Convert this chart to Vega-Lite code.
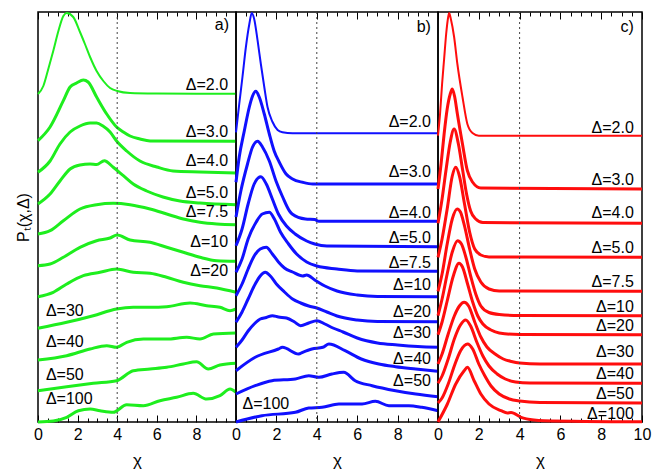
{
"$schema": "https://vega.github.io/schema/vega-lite/v6.json",
"padding": {"left": 14, "top": 8, "right": 5, "bottom": 0},
"spacing": 0,
"bounds": "flush",
"config": {"view": {"stroke": "black", "strokeWidth": 1.5}, "font": "Liberation Sans",
 "axis": {"grid": false, "domain": false, "labelFont": "Liberation Sans", "titleFont": "Liberation Sans", "labelColor": "black", "titleColor": "black", "tickColor": "black", "titleFontWeight": "normal"}},
"datasets": {
"ref": [{"x": 4}],
"labels": [
{"p":"a","t":"a)","x":9.65,"y":39.7},
{"p":"a","t":"Δ=2.0","x":9.6,"y":33.73},{"p":"a","t":"Δ=3.0","x":9.6,"y":29.04},{"p":"a","t":"Δ=4.0","x":9.6,"y":26.13},{"p":"a","t":"Δ=5.0","x":9.6,"y":22.9},{"p":"a","t":"Δ=7.5","x":9.6,"y":21.0},{"p":"a","t":"Δ=10","x":9.6,"y":18.0},{"p":"a","t":"Δ=20","x":9.6,"y":15.1},{"p":"a","t":"Δ=30","x":0.4,"y":11.1},{"p":"a","t":"Δ=40","x":0.4,"y":8.0},{"p":"a","t":"Δ=50","x":0.4,"y":4.7},{"p":"a","t":"Δ=100","x":0.4,"y":2.3},
{"p":"b","t":"b)","x":9.65,"y":39.5},
{"p":"b","t":"Δ=2.0","x":9.65,"y":29.97},{"p":"b","t":"Δ=3.0","x":9.65,"y":24.97},{"p":"b","t":"Δ=4.0","x":9.65,"y":20.9},{"p":"b","t":"Δ=5.0","x":9.65,"y":18.4},{"p":"b","t":"Δ=7.5","x":9.65,"y":15.9},{"p":"b","t":"Δ=10","x":9.65,"y":13.73},{"p":"b","t":"Δ=20","x":9.65,"y":11.03},{"p":"b","t":"Δ=30","x":9.65,"y":8.87},{"p":"b","t":"Δ=40","x":9.65,"y":6.3},{"p":"b","t":"Δ=50","x":9.65,"y":4.13},{"p":"b","t":"Δ=100","x":0.32,"y":1.8},
{"p":"c","t":"c)","x":9.6,"y":39.5},
{"p":"c","t":"Δ=2.0","x":9.6,"y":29.4},{"p":"c","t":"Δ=3.0","x":9.6,"y":24.23},{"p":"c","t":"Δ=4.0","x":9.6,"y":20.87},{"p":"c","t":"Δ=5.0","x":9.6,"y":17.4},{"p":"c","t":"Δ=7.5","x":9.6,"y":13.97},{"p":"c","t":"Δ=10","x":9.6,"y":11.53},{"p":"c","t":"Δ=20","x":9.6,"y":9.63},{"p":"c","t":"Δ=30","x":9.6,"y":6.97},{"p":"c","t":"Δ=40","x":9.6,"y":4.8},{"p":"c","t":"Δ=50","x":9.6,"y":2.8},{"p":"c","t":"Δ=100","x":9.6,"y":0.8}
],
"curves": [
{"p":"a","d":"2.0","x":0,"y":32.8},{"p":"a","d":"2.0","x":0.27,"y":33.6},{"p":"a","d":"2.0","x":0.52,"y":35.3},{"p":"a","d":"2.0","x":0.77,"y":37.1},{"p":"a","d":"2.0","x":1.03,"y":39.1},{"p":"a","d":"2.0","x":1.28,"y":40.6},{"p":"a","d":"2.0","x":1.45,"y":40.9},{"p":"a","d":"2.0","x":1.78,"y":40.5},{"p":"a","d":"2.0","x":2.12,"y":39.0},{"p":"a","d":"2.0","x":2.37,"y":37.8},{"p":"a","d":"2.0","x":2.63,"y":36.5},{"p":"a","d":"2.0","x":2.96,"y":35.1},{"p":"a","d":"2.0","x":3.3,"y":34.1},{"p":"a","d":"2.0","x":3.64,"y":33.4},{"p":"a","d":"2.0","x":4.0,"y":33.1},{"p":"a","d":"2.0","x":4.65,"y":32.9},{"p":"a","d":"2.0","x":6,"y":32.85},{"p":"a","d":"2.0","x":8,"y":32.83},{"p":"a","d":"2.0","x":10,"y":32.83},
{"p":"a","d":"3.0","x":0,"y":28.13},{"p":"a","d":"3.0","x":0.61,"y":29.5},{"p":"a","d":"3.0","x":1.28,"y":32.13},{"p":"a","d":"3.0","x":1.62,"y":33.5},{"p":"a","d":"3.0","x":1.95,"y":33.9},{"p":"a","d":"3.0","x":2.29,"y":34.2},{"p":"a","d":"3.0","x":2.53,"y":34.0},{"p":"a","d":"3.0","x":2.96,"y":32.5},{"p":"a","d":"3.0","x":3.47,"y":30.8},{"p":"a","d":"3.0","x":3.97,"y":29.5},{"p":"a","d":"3.0","x":4.31,"y":29.0},{"p":"a","d":"3.0","x":4.65,"y":28.6},{"p":"a","d":"3.0","x":5.15,"y":28.3},{"p":"a","d":"3.0","x":5.66,"y":28.1},{"p":"a","d":"3.0","x":10,"y":28.07},
{"p":"a","d":"4.0","x":0,"y":24.97},{"p":"a","d":"4.0","x":0.61,"y":26.1},{"p":"a","d":"4.0","x":1.11,"y":27.8},{"p":"a","d":"4.0","x":1.62,"y":29.0},{"p":"a","d":"4.0","x":2.12,"y":29.6},{"p":"a","d":"4.0","x":2.63,"y":29.9},{"p":"a","d":"4.0","x":2.96,"y":29.9},{"p":"a","d":"4.0","x":3.28,"y":29.6},{"p":"a","d":"4.0","x":3.64,"y":29.0},{"p":"a","d":"4.0","x":3.97,"y":28.1},{"p":"a","d":"4.0","x":4.48,"y":27.1},{"p":"a","d":"4.0","x":5.15,"y":26.1},{"p":"a","d":"4.0","x":6.0,"y":25.5},{"p":"a","d":"4.0","x":6.82,"y":25.1},{"p":"a","d":"4.0","x":8.18,"y":25.0},{"p":"a","d":"4.0","x":10,"y":24.9},
{"p":"a","d":"5.0","x":0,"y":21.8},{"p":"a","d":"5.0","x":0.61,"y":22.8},{"p":"a","d":"5.0","x":1.11,"y":24.1},{"p":"a","d":"5.0","x":1.62,"y":25.3},{"p":"a","d":"5.0","x":2.12,"y":25.7},{"p":"a","d":"5.0","x":2.63,"y":25.8},{"p":"a","d":"5.0","x":2.96,"y":25.75},{"p":"a","d":"5.0","x":3.35,"y":26.13},{"p":"a","d":"5.0","x":3.8,"y":25.47},{"p":"a","d":"5.0","x":4.31,"y":24.63},{"p":"a","d":"5.0","x":4.81,"y":23.8},{"p":"a","d":"5.0","x":5.49,"y":23.1},{"p":"a","d":"5.0","x":6.31,"y":22.5},{"p":"a","d":"5.0","x":7.17,"y":22.1},{"p":"a","d":"5.0","x":8.18,"y":21.9},{"p":"a","d":"5.0","x":10,"y":21.73},
{"p":"a","d":"7.5","x":0,"y":18.8},{"p":"a","d":"7.5","x":0.61,"y":19.13},{"p":"a","d":"7.5","x":1.28,"y":20.13},{"p":"a","d":"7.5","x":2.12,"y":21.3},{"p":"a","d":"7.5","x":2.96,"y":21.73},{"p":"a","d":"7.5","x":3.8,"y":21.87},{"p":"a","d":"7.5","x":4.65,"y":21.73},{"p":"a","d":"7.5","x":5.66,"y":21.3},{"p":"a","d":"7.5","x":6.5,"y":20.8},{"p":"a","d":"7.5","x":7.34,"y":20.3},{"p":"a","d":"7.5","x":8.18,"y":19.97},{"p":"a","d":"7.5","x":9.03,"y":19.8},{"p":"a","d":"7.5","x":10,"y":19.73},
{"p":"a","d":"10","x":0,"y":15.63},{"p":"a","d":"10","x":0.61,"y":15.8},{"p":"a","d":"10","x":1.28,"y":16.47},{"p":"a","d":"10","x":2.12,"y":17.47},{"p":"a","d":"10","x":2.96,"y":18.13},{"p":"a","d":"10","x":3.64,"y":18.4},{"p":"a","d":"10","x":4.0,"y":18.7},{"p":"a","d":"10","x":4.65,"y":18.2},{"p":"a","d":"10","x":5.66,"y":17.97},{"p":"a","d":"10","x":6.5,"y":17.47},{"p":"a","d":"10","x":7.34,"y":16.97},{"p":"a","d":"10","x":8.18,"y":16.47},{"p":"a","d":"10","x":9.03,"y":16.13},{"p":"a","d":"10","x":10,"y":16.07},
{"p":"a","d":"20","x":0,"y":12.53},{"p":"a","d":"20","x":0.77,"y":12.97},{"p":"a","d":"20","x":1.45,"y":13.8},{"p":"a","d":"20","x":2.29,"y":14.63},{"p":"a","d":"20","x":3.13,"y":14.97},{"p":"a","d":"20","x":3.97,"y":15.3},{"p":"a","d":"20","x":4.81,"y":14.97},{"p":"a","d":"20","x":5.66,"y":14.87},{"p":"a","d":"20","x":6.5,"y":14.47},{"p":"a","d":"20","x":7.34,"y":13.97},{"p":"a","d":"20","x":8.18,"y":13.63},{"p":"a","d":"20","x":9.03,"y":13.4},{"p":"a","d":"20","x":10,"y":12.97},
{"p":"a","d":"30","x":0,"y":9.37},{"p":"a","d":"30","x":1.45,"y":9.97},{"p":"a","d":"30","x":2.79,"y":10.63},{"p":"a","d":"30","x":3.97,"y":11.3},{"p":"a","d":"30","x":4.81,"y":11.47},{"p":"a","d":"30","x":5.66,"y":11.47},{"p":"a","d":"30","x":6.5,"y":11.53},{"p":"a","d":"30","x":7.68,"y":11.9},{"p":"a","d":"30","x":8.52,"y":11.63},{"p":"a","d":"30","x":9.19,"y":11.47},{"p":"a","d":"30","x":9.7,"y":11.13},{"p":"a","d":"30","x":10,"y":11.3},
{"p":"a","d":"40","x":0,"y":6.2},{"p":"a","d":"40","x":1.45,"y":6.63},{"p":"a","d":"40","x":2.63,"y":7.3},{"p":"a","d":"40","x":3.47,"y":7.63},{"p":"a","d":"40","x":3.97,"y":7.47},{"p":"a","d":"40","x":4.48,"y":7.97},{"p":"a","d":"40","x":5.32,"y":8.3},{"p":"a","d":"40","x":6.5,"y":8.3},{"p":"a","d":"40","x":7.51,"y":8.47},{"p":"a","d":"40","x":8.18,"y":8.3},{"p":"a","d":"40","x":8.86,"y":8.8},{"p":"a","d":"40","x":10,"y":8.9},
{"p":"a","d":"50","x":0,"y":3.13},{"p":"a","d":"50","x":1.45,"y":3.53},{"p":"a","d":"50","x":2.79,"y":3.87},{"p":"a","d":"50","x":3.97,"y":4.13},{"p":"a","d":"50","x":4.81,"y":5.13},{"p":"a","d":"50","x":5.66,"y":5.3},{"p":"a","d":"50","x":6.5,"y":5.47},{"p":"a","d":"50","x":7.34,"y":5.8},{"p":"a","d":"50","x":8.01,"y":6.03},{"p":"a","d":"50","x":8.6,"y":5.3},{"p":"a","d":"50","x":9.19,"y":5.7},{"p":"a","d":"50","x":10,"y":5.87},
{"p":"a","d":"100","x":0,"y":0},{"p":"a","d":"100","x":0.77,"y":0.1},{"p":"a","d":"100","x":1.45,"y":0.47},{"p":"a","d":"100","x":2.04,"y":1.13},{"p":"a","d":"100","x":2.63,"y":1.3},{"p":"a","d":"100","x":3.13,"y":1.13},{"p":"a","d":"100","x":3.8,"y":0.97},{"p":"a","d":"100","x":4.48,"y":1.73},{"p":"a","d":"100","x":5.32,"y":1.63},{"p":"a","d":"100","x":6.16,"y":2.13},{"p":"a","d":"100","x":7.0,"y":2.47},{"p":"a","d":"100","x":7.84,"y":2.87},{"p":"a","d":"100","x":8.52,"y":2.3},{"p":"a","d":"100","x":9.19,"y":2.63},{"p":"a","d":"100","x":9.7,"y":3.3},{"p":"a","d":"100","x":10,"y":2.97},
{"p":"b","d":"2.0","x":0,"y":28.97},{"p":"b","d":"2.0","x":0.16,"y":31.8},{"p":"b","d":"2.0","x":0.32,"y":34.5},{"p":"b","d":"2.0","x":0.49,"y":37.5},{"p":"b","d":"2.0","x":0.66,"y":39.8},{"p":"b","d":"2.0","x":0.78,"y":40.9},{"p":"b","d":"2.0","x":0.9,"y":40.3},{"p":"b","d":"2.0","x":1.07,"y":38.13},{"p":"b","d":"2.0","x":1.23,"y":35.8},{"p":"b","d":"2.0","x":1.4,"y":33.5},{"p":"b","d":"2.0","x":1.56,"y":31.5},{"p":"b","d":"2.0","x":1.81,"y":30.0},{"p":"b","d":"2.0","x":2.06,"y":29.2},{"p":"b","d":"2.0","x":2.3,"y":28.97},{"p":"b","d":"2.0","x":2.8,"y":28.87},{"p":"b","d":"2.0","x":10,"y":28.87},
{"p":"b","d":"3.0","x":0,"y":23.97},{"p":"b","d":"3.0","x":0.16,"y":26.5},{"p":"b","d":"3.0","x":0.41,"y":29.1},{"p":"b","d":"3.0","x":0.66,"y":31.5},{"p":"b","d":"3.0","x":0.82,"y":32.6},{"p":"b","d":"3.0","x":0.98,"y":33.07},{"p":"b","d":"3.0","x":1.15,"y":32.5},{"p":"b","d":"3.0","x":1.4,"y":30.8},{"p":"b","d":"3.0","x":1.65,"y":28.8},{"p":"b","d":"3.0","x":1.89,"y":27.1},{"p":"b","d":"3.0","x":2.14,"y":26.0},{"p":"b","d":"3.0","x":2.48,"y":24.8},{"p":"b","d":"3.0","x":2.8,"y":24.3},{"p":"b","d":"3.0","x":3.3,"y":23.97},{"p":"b","d":"3.0","x":3.8,"y":23.8},{"p":"b","d":"3.0","x":10,"y":23.8},
{"p":"b","d":"4.0","x":0,"y":20.5},{"p":"b","d":"4.0","x":0.24,"y":23.1},{"p":"b","d":"4.0","x":0.57,"y":25.8},{"p":"b","d":"4.0","x":0.82,"y":27.5},{"p":"b","d":"4.0","x":1.07,"y":28.07},{"p":"b","d":"4.0","x":1.31,"y":27.5},{"p":"b","d":"4.0","x":1.65,"y":26.1},{"p":"b","d":"4.0","x":1.98,"y":24.1},{"p":"b","d":"4.0","x":2.31,"y":22.5},{"p":"b","d":"4.0","x":2.65,"y":21.1},{"p":"b","d":"4.0","x":2.78,"y":20.8},{"p":"b","d":"4.0","x":3.44,"y":20.3},{"p":"b","d":"4.0","x":3.9,"y":20.25},{"p":"b","d":"4.0","x":4.1,"y":20.07},{"p":"b","d":"4.0","x":10,"y":20.07},
{"p":"b","d":"5.0","x":0,"y":17.63},{"p":"b","d":"5.0","x":0.3,"y":19.3},{"p":"b","d":"5.0","x":0.6,"y":21.8},{"p":"b","d":"5.0","x":0.9,"y":23.8},{"p":"b","d":"5.0","x":1.23,"y":24.53},{"p":"b","d":"5.0","x":1.5,"y":23.8},{"p":"b","d":"5.0","x":1.8,"y":22.3},{"p":"b","d":"5.0","x":2.1,"y":20.8},{"p":"b","d":"5.0","x":2.5,"y":19.6},{"p":"b","d":"5.0","x":2.93,"y":18.8},{"p":"b","d":"5.0","x":3.5,"y":18.1},{"p":"b","d":"5.0","x":3.9,"y":17.8},{"p":"b","d":"5.0","x":4.5,"y":17.6},{"p":"b","d":"5.0","x":10,"y":17.53},
{"p":"b","d":"7.5","x":0,"y":14.97},{"p":"b","d":"7.5","x":0.3,"y":16.3},{"p":"b","d":"7.5","x":0.6,"y":18.3},{"p":"b","d":"7.5","x":1.0,"y":20.0},{"p":"b","d":"7.5","x":1.3,"y":20.8},{"p":"b","d":"7.5","x":1.65,"y":20.97},{"p":"b","d":"7.5","x":1.9,"y":20.3},{"p":"b","d":"7.5","x":2.2,"y":19.0},{"p":"b","d":"7.5","x":2.6,"y":17.8},{"p":"b","d":"7.5","x":3.0,"y":16.8},{"p":"b","d":"7.5","x":3.5,"y":16.0},{"p":"b","d":"7.5","x":4.0,"y":15.6},{"p":"b","d":"7.5","x":5,"y":15.3},{"p":"b","d":"7.5","x":6,"y":15.1},{"p":"b","d":"7.5","x":10,"y":15.07},
{"p":"b","d":"10","x":0,"y":12.63},{"p":"b","d":"10","x":0.3,"y":13.8},{"p":"b","d":"10","x":0.6,"y":15.3},{"p":"b","d":"10","x":0.9,"y":16.6},{"p":"b","d":"10","x":1.2,"y":17.3},{"p":"b","d":"10","x":1.5,"y":17.47},{"p":"b","d":"10","x":1.8,"y":16.8},{"p":"b","d":"10","x":2.1,"y":16.0},{"p":"b","d":"10","x":2.4,"y":15.4},{"p":"b","d":"10","x":2.8,"y":15.0},{"p":"b","d":"10","x":3.3,"y":14.6},{"p":"b","d":"10","x":3.5,"y":14.7},{"p":"b","d":"10","x":3.9,"y":14.2},{"p":"b","d":"10","x":4.4,"y":13.6},{"p":"b","d":"10","x":5,"y":13.1},{"p":"b","d":"10","x":6,"y":12.7},{"p":"b","d":"10","x":7,"y":12.55},{"p":"b","d":"10","x":10,"y":12.53},
{"p":"b","d":"20","x":0,"y":9.97},{"p":"b","d":"20","x":0.3,"y":11.0},{"p":"b","d":"20","x":0.6,"y":12.3},{"p":"b","d":"20","x":0.9,"y":13.6},{"p":"b","d":"20","x":1.2,"y":14.6},{"p":"b","d":"20","x":1.45,"y":14.97},{"p":"b","d":"20","x":1.7,"y":14.6},{"p":"b","d":"20","x":2.0,"y":13.8},{"p":"b","d":"20","x":2.4,"y":13.0},{"p":"b","d":"20","x":2.8,"y":12.3},{"p":"b","d":"20","x":3.2,"y":11.9},{"p":"b","d":"20","x":3.6,"y":11.6},{"p":"b","d":"20","x":4.0,"y":11.4},{"p":"b","d":"20","x":4.5,"y":11.0},{"p":"b","d":"20","x":5,"y":10.6},{"p":"b","d":"20","x":6,"y":10.2},{"p":"b","d":"20","x":7,"y":10.05},{"p":"b","d":"20","x":10,"y":10.03},
{"p":"b","d":"30","x":0,"y":7.47},{"p":"b","d":"30","x":0.3,"y":8.2},{"p":"b","d":"30","x":0.6,"y":9.1},{"p":"b","d":"30","x":0.9,"y":9.8},{"p":"b","d":"30","x":1.2,"y":10.3},{"p":"b","d":"30","x":1.5,"y":10.45},{"p":"b","d":"30","x":1.8,"y":10.63},{"p":"b","d":"30","x":2.1,"y":10.5},{"p":"b","d":"30","x":2.5,"y":10.4},{"p":"b","d":"30","x":2.9,"y":10.0},{"p":"b","d":"30","x":3.2,"y":9.63},{"p":"b","d":"30","x":3.6,"y":9.9},{"p":"b","d":"30","x":4.0,"y":10.13},{"p":"b","d":"30","x":4.4,"y":9.8},{"p":"b","d":"30","x":4.8,"y":9.4},{"p":"b","d":"30","x":5.3,"y":9.0},{"p":"b","d":"30","x":6,"y":8.4},{"p":"b","d":"30","x":7,"y":7.9},{"p":"b","d":"30","x":8,"y":7.7},{"p":"b","d":"30","x":9,"y":7.55},{"p":"b","d":"30","x":10,"y":7.47},
{"p":"b","d":"40","x":0,"y":5.13},{"p":"b","d":"40","x":0.95,"y":6.47},{"p":"b","d":"40","x":2.1,"y":7.3},{"p":"b","d":"40","x":2.3,"y":7.47},{"p":"b","d":"40","x":3.1,"y":6.8},{"p":"b","d":"40","x":3.3,"y":6.97},{"p":"b","d":"40","x":3.76,"y":7.3},{"p":"b","d":"40","x":4.3,"y":7.47},{"p":"b","d":"40","x":4.6,"y":7.8},{"p":"b","d":"40","x":5.4,"y":7.13},{"p":"b","d":"40","x":6.2,"y":6.3},{"p":"b","d":"40","x":7.07,"y":5.8},{"p":"b","d":"40","x":7.9,"y":5.53},{"p":"b","d":"40","x":8.9,"y":5.3},{"p":"b","d":"40","x":10,"y":5.07},
{"p":"b","d":"50","x":0,"y":2.8},{"p":"b","d":"50","x":0.95,"y":3.63},{"p":"b","d":"50","x":1.78,"y":4.13},{"p":"b","d":"50","x":2.94,"y":4.3},{"p":"b","d":"50","x":3.6,"y":4.63},{"p":"b","d":"50","x":4.1,"y":4.47},{"p":"b","d":"50","x":4.75,"y":4.8},{"p":"b","d":"50","x":5.33,"y":4.97},{"p":"b","d":"50","x":5.9,"y":4.13},{"p":"b","d":"50","x":6.74,"y":3.63},{"p":"b","d":"50","x":7.9,"y":3.13},{"p":"b","d":"50","x":8.9,"y":2.8},{"p":"b","d":"50","x":10,"y":2.53},
{"p":"b","d":"100","x":0,"y":0},{"p":"b","d":"100","x":1.28,"y":0.63},{"p":"b","d":"100","x":2.94,"y":0.97},{"p":"b","d":"100","x":3.6,"y":1.4},{"p":"b","d":"100","x":4.26,"y":1.47},{"p":"b","d":"100","x":5.09,"y":1.8},{"p":"b","d":"100","x":6.24,"y":1.8},{"p":"b","d":"100","x":6.9,"y":2.07},{"p":"b","d":"100","x":7.57,"y":1.63},{"p":"b","d":"100","x":8.56,"y":1.63},{"p":"b","d":"100","x":9.2,"y":1.47},{"p":"b","d":"100","x":10,"y":1.13},
{"p":"c","d":"2.0","x":0,"y":28.63},{"p":"c","d":"2.0","x":0.1,"y":30.8},{"p":"c","d":"2.0","x":0.2,"y":33.8},{"p":"c","d":"2.0","x":0.3,"y":36.3},{"p":"c","d":"2.0","x":0.4,"y":38.8},{"p":"c","d":"2.0","x":0.5,"y":40.5},{"p":"c","d":"2.0","x":0.55,"y":40.9},{"p":"c","d":"2.0","x":0.63,"y":40.3},{"p":"c","d":"2.0","x":0.79,"y":38.5},{"p":"c","d":"2.0","x":0.95,"y":35.8},{"p":"c","d":"2.0","x":1.2,"y":32.5},{"p":"c","d":"2.0","x":1.44,"y":29.8},{"p":"c","d":"2.0","x":1.69,"y":28.9},{"p":"c","d":"2.0","x":2.0,"y":28.63},{"p":"c","d":"2.0","x":10,"y":28.63},
{"p":"c","d":"3.0","x":0,"y":23.3},{"p":"c","d":"3.0","x":0.15,"y":25.8},{"p":"c","d":"3.0","x":0.3,"y":28.8},{"p":"c","d":"3.0","x":0.45,"y":31.3},{"p":"c","d":"3.0","x":0.6,"y":32.8},{"p":"c","d":"3.0","x":0.7,"y":33.3},{"p":"c","d":"3.0","x":0.82,"y":32.5},{"p":"c","d":"3.0","x":0.95,"y":30.8},{"p":"c","d":"3.0","x":1.2,"y":27.8},{"p":"c","d":"3.0","x":1.44,"y":25.13},{"p":"c","d":"3.0","x":1.69,"y":24.0},{"p":"c","d":"3.0","x":2.1,"y":23.4},{"p":"c","d":"3.0","x":10,"y":23.3},
{"p":"c","d":"4.0","x":0,"y":19.87},{"p":"c","d":"4.0","x":0.2,"y":22.3},{"p":"c","d":"4.0","x":0.4,"y":25.3},{"p":"c","d":"4.0","x":0.6,"y":28.0},{"p":"c","d":"4.0","x":0.79,"y":29.3},{"p":"c","d":"4.0","x":1.0,"y":27.8},{"p":"c","d":"4.0","x":1.2,"y":25.3},{"p":"c","d":"4.0","x":1.4,"y":22.8},{"p":"c","d":"4.0","x":1.6,"y":21.1},{"p":"c","d":"4.0","x":1.85,"y":20.3},{"p":"c","d":"4.0","x":2.2,"y":19.95},{"p":"c","d":"4.0","x":10,"y":19.87},
{"p":"c","d":"5.0","x":0,"y":16.47},{"p":"c","d":"5.0","x":0.2,"y":18.3},{"p":"c","d":"5.0","x":0.45,"y":21.3},{"p":"c","d":"5.0","x":0.7,"y":24.6},{"p":"c","d":"5.0","x":0.87,"y":25.47},{"p":"c","d":"5.0","x":1.05,"y":24.6},{"p":"c","d":"5.0","x":1.3,"y":21.8},{"p":"c","d":"5.0","x":1.55,"y":19.0},{"p":"c","d":"5.0","x":1.8,"y":17.3},{"p":"c","d":"5.0","x":2.1,"y":16.7},{"p":"c","d":"5.0","x":2.5,"y":16.5},{"p":"c","d":"5.0","x":10,"y":16.47},
{"p":"c","d":"7.5","x":0,"y":13.07},{"p":"c","d":"7.5","x":0.2,"y":14.8},{"p":"c","d":"7.5","x":0.45,"y":17.8},{"p":"c","d":"7.5","x":0.7,"y":20.3},{"p":"c","d":"7.5","x":0.94,"y":21.3},{"p":"c","d":"7.5","x":1.1,"y":21.0},{"p":"c","d":"7.5","x":1.3,"y":19.6},{"p":"c","d":"7.5","x":1.55,"y":17.3},{"p":"c","d":"7.5","x":1.8,"y":15.3},{"p":"c","d":"7.5","x":2.1,"y":14.0},{"p":"c","d":"7.5","x":2.5,"y":13.3},{"p":"c","d":"7.5","x":3,"y":13.1},{"p":"c","d":"7.5","x":10,"y":13.07},
{"p":"c","d":"10","x":0,"y":10.63},{"p":"c","d":"10","x":0.2,"y":12.3},{"p":"c","d":"10","x":0.45,"y":14.8},{"p":"c","d":"10","x":0.7,"y":17.0},{"p":"c","d":"10","x":0.96,"y":18.13},{"p":"c","d":"10","x":1.15,"y":17.8},{"p":"c","d":"10","x":1.35,"y":16.6},{"p":"c","d":"10","x":1.6,"y":14.6},{"p":"c","d":"10","x":1.85,"y":12.8},{"p":"c","d":"10","x":2.1,"y":11.6},{"p":"c","d":"10","x":2.5,"y":10.95},{"p":"c","d":"10","x":3,"y":10.75},{"p":"c","d":"10","x":4,"y":10.65},{"p":"c","d":"10","x":10,"y":10.63},
{"p":"c","d":"20","x":0,"y":8.73},{"p":"c","d":"20","x":0.2,"y":10.0},{"p":"c","d":"20","x":0.45,"y":12.1},{"p":"c","d":"20","x":0.75,"y":14.6},{"p":"c","d":"20","x":1.03,"y":15.87},{"p":"c","d":"20","x":1.2,"y":15.5},{"p":"c","d":"20","x":1.45,"y":13.8},{"p":"c","d":"20","x":1.7,"y":12.0},{"p":"c","d":"20","x":1.95,"y":10.6},{"p":"c","d":"20","x":2.2,"y":9.8},{"p":"c","d":"20","x":2.6,"y":9.2},{"p":"c","d":"20","x":3,"y":8.9},{"p":"c","d":"20","x":4,"y":8.75},{"p":"c","d":"20","x":10,"y":8.73},
{"p":"c","d":"30","x":0,"y":5.8},{"p":"c","d":"30","x":0.2,"y":6.8},{"p":"c","d":"30","x":0.5,"y":8.8},{"p":"c","d":"30","x":0.8,"y":10.6},{"p":"c","d":"30","x":1.05,"y":11.6},{"p":"c","d":"30","x":1.28,"y":11.97},{"p":"c","d":"30","x":1.5,"y":11.6},{"p":"c","d":"30","x":1.8,"y":10.0},{"p":"c","d":"30","x":2.1,"y":8.5},{"p":"c","d":"30","x":2.4,"y":7.5},{"p":"c","d":"30","x":2.8,"y":6.8},{"p":"c","d":"30","x":3.2,"y":6.3},{"p":"c","d":"30","x":3.6,"y":6.05},{"p":"c","d":"30","x":4,"y":5.9},{"p":"c","d":"30","x":5,"y":5.8},{"p":"c","d":"30","x":10,"y":5.8},
{"p":"c","d":"40","x":0,"y":3.87},{"p":"c","d":"40","x":0.2,"y":4.6},{"p":"c","d":"40","x":0.5,"y":6.3},{"p":"c","d":"40","x":0.8,"y":8.3},{"p":"c","d":"40","x":1.1,"y":9.7},{"p":"c","d":"40","x":1.36,"y":10.2},{"p":"c","d":"40","x":1.6,"y":9.6},{"p":"c","d":"40","x":1.9,"y":8.0},{"p":"c","d":"40","x":2.2,"y":6.6},{"p":"c","d":"40","x":2.5,"y":5.6},{"p":"c","d":"40","x":2.9,"y":4.8},{"p":"c","d":"40","x":3.3,"y":4.3},{"p":"c","d":"40","x":3.8,"y":4.0},{"p":"c","d":"40","x":4.5,"y":3.9},{"p":"c","d":"40","x":10,"y":3.87},
{"p":"c","d":"50","x":0,"y":1.9},{"p":"c","d":"50","x":0.2,"y":2.4},{"p":"c","d":"50","x":0.5,"y":3.8},{"p":"c","d":"50","x":0.8,"y":5.6},{"p":"c","d":"50","x":1.1,"y":7.1},{"p":"c","d":"50","x":1.45,"y":7.8},{"p":"c","d":"50","x":1.7,"y":7.3},{"p":"c","d":"50","x":2.0,"y":5.8},{"p":"c","d":"50","x":2.3,"y":4.6},{"p":"c","d":"50","x":2.6,"y":3.6},{"p":"c","d":"50","x":3.0,"y":2.8},{"p":"c","d":"50","x":3.5,"y":2.3},{"p":"c","d":"50","x":4,"y":2.1},{"p":"c","d":"50","x":5,"y":1.95},{"p":"c","d":"50","x":10,"y":1.9},
{"p":"c","d":"100","x":0,"y":0},{"p":"c","d":"100","x":0.46,"y":1.8},{"p":"c","d":"100","x":0.87,"y":3.8},{"p":"c","d":"100","x":1.28,"y":5.13},{"p":"c","d":"100","x":1.44,"y":5.47},{"p":"c","d":"100","x":1.77,"y":4.13},{"p":"c","d":"100","x":2.1,"y":2.8},{"p":"c","d":"100","x":2.5,"y":1.8},{"p":"c","d":"100","x":3.09,"y":1.13},{"p":"c","d":"100","x":3.4,"y":0.9},{"p":"c","d":"100","x":3.58,"y":0.95},{"p":"c","d":"100","x":4.07,"y":0.47},{"p":"c","d":"100","x":4.7,"y":0.2},{"p":"c","d":"100","x":5.2,"y":0.13},{"p":"c","d":"100","x":10,"y":0.02}
]
},
"hconcat": [
{
"width": 198, "height": 410,
"resolve": {"axis": {"x": "independent"}},
"layer": [
{"data": {"name": "curves"}, "transform": [{"filter": "datum.p === 'a'"}],
 "mark": {"type": "line", "interpolate": "monotone", "color": "#1eee1e"},
 "encoding": {
  "x": {"field": "x", "type": "quantitative", "scale": {"domain": [0, 10], "nice": false, "zero": false},
        "axis": {"orient": "bottom", "values": [0,0.5,1,1.5,2,2.5,3,3.5,4,4.5,5,5.5,6,6.5,7,7.5,8,8.5,9,9.5], "tickSize": {"condition": {"test": "datum.value % 2 === 0", "value": -7}, "value": -4}, "labelExpr": "datum.value % 2 === 0 ? format(datum.value, 'd') : ''", "labelFontSize": 16, "labelPadding": 11, "labelFlush": false, "labelOverlap": false, "title": "χ", "titleFontSize": 17, "titlePadding": 7}},
  "y": {"field": "y", "type": "quantitative", "scale": {"domain": [0, 41], "nice": false}, "axis": {"title": "Pₜ(χ,Δ)", "labels": false, "ticks": false, "titleFontSize": 16, "titlePadding": 7}},
  "detail": {"field": "d"},
  "strokeWidth": {"condition": {"test": "datum.d === '2.0'", "value": 2}, "value": 3}
 }},
{"data": {"name": "ref"}, "mark": {"type": "rule", "strokeDash": [2, 3], "color": "#444", "strokeWidth": 1},
 "encoding": {"x": {"field": "x", "type": "quantitative", "axis": {"orient": "top", "values": [0,0.5,1,1.5,2,2.5,3,3.5,4,4.5,5,5.5,6,6.5,7,7.5,8,8.5,9,9.5], "tickSize": {"condition": {"test": "datum.value % 2 === 0", "value": -7}, "value": -4}, "labels": false, "title": null}}}},
{"data": {"name": "labels"}, "transform": [{"filter": "datum.p === 'a' && datum.x > 5"}],
 "mark": {"type": "text", "align": "right", "baseline": "middle", "fontSize": 16, "font": "Liberation Sans", "color": "black"},
 "encoding": {"x": {"field": "x", "type": "quantitative", "axis": null}, "y": {"field": "y", "type": "quantitative", "axis": {"title": "Pₜ(χ,Δ)", "labels": false, "ticks": false, "titleFontSize": 16, "titlePadding": 7}}, "text": {"field": "t"}}},
{"data": {"name": "labels"}, "transform": [{"filter": "datum.p === 'a' && datum.x < 5"}],
 "mark": {"type": "text", "align": "left", "baseline": "middle", "fontSize": 16, "font": "Liberation Sans", "color": "black"},
 "encoding": {"x": {"field": "x", "type": "quantitative", "axis": null}, "y": {"field": "y", "type": "quantitative", "axis": {"title": "Pₜ(χ,Δ)", "labels": false, "ticks": false, "titleFontSize": 16, "titlePadding": 7}}, "text": {"field": "t"}}}
]
},
{
"width": 202, "height": 410,
"resolve": {"axis": {"x": "independent"}},
"layer": [
{"data": {"name": "curves"}, "transform": [{"filter": "datum.p === 'b'"}],
 "mark": {"type": "line", "interpolate": "monotone", "color": "#1010ff"},
 "encoding": {
  "x": {"field": "x", "type": "quantitative", "scale": {"domain": [0, 10], "nice": false, "zero": false},
        "axis": {"orient": "bottom", "values": [0,0.5,1,1.5,2,2.5,3,3.5,4,4.5,5,5.5,6,6.5,7,7.5,8,8.5,9,9.5], "tickSize": {"condition": {"test": "datum.value % 2 === 0", "value": -7}, "value": -4}, "labelExpr": "datum.value % 2 === 0 ? format(datum.value, 'd') : ''", "labelFontSize": 16, "labelPadding": 11, "labelFlush": false, "labelOverlap": false, "title": "χ", "titleFontSize": 17, "titlePadding": 7}},
  "y": {"field": "y", "type": "quantitative", "scale": {"domain": [0, 41], "nice": false}, "axis": null},
  "detail": {"field": "d"},
  "strokeWidth": {"condition": {"test": "datum.d === '2.0'", "value": 2}, "value": 3}
 }},
{"data": {"name": "ref"}, "mark": {"type": "rule", "strokeDash": [2, 3], "color": "#444", "strokeWidth": 1},
 "encoding": {"x": {"field": "x", "type": "quantitative", "axis": {"orient": "top", "values": [0,0.5,1,1.5,2,2.5,3,3.5,4,4.5,5,5.5,6,6.5,7,7.5,8,8.5,9,9.5], "tickSize": {"condition": {"test": "datum.value % 2 === 0", "value": -7}, "value": -4}, "labels": false, "title": null}}}},
{"data": {"name": "labels"}, "transform": [{"filter": "datum.p === 'b' && datum.x > 5"}],
 "mark": {"type": "text", "align": "right", "baseline": "middle", "fontSize": 16, "font": "Liberation Sans", "color": "black"},
 "encoding": {"x": {"field": "x", "type": "quantitative", "axis": null}, "y": {"field": "y", "type": "quantitative", "axis": null}, "text": {"field": "t"}}},
{"data": {"name": "labels"}, "transform": [{"filter": "datum.p === 'b' && datum.x < 5"}],
 "mark": {"type": "text", "align": "left", "baseline": "middle", "fontSize": 16, "font": "Liberation Sans", "color": "black"},
 "encoding": {"x": {"field": "x", "type": "quantitative", "axis": null}, "y": {"field": "y", "type": "quantitative", "axis": null}, "text": {"field": "t"}}}
]
},
{
"width": 204, "height": 410,
"resolve": {"axis": {"x": "independent"}},
"layer": [
{"data": {"name": "curves"}, "transform": [{"filter": "datum.p === 'c'"}],
 "mark": {"type": "line", "interpolate": "monotone", "color": "#ff0d0d"},
 "encoding": {
  "x": {"field": "x", "type": "quantitative", "scale": {"domain": [0, 10], "nice": false, "zero": false},
        "axis": {"orient": "bottom", "values": [0,0.5,1,1.5,2,2.5,3,3.5,4,4.5,5,5.5,6,6.5,7,7.5,8,8.5,9,9.5,10], "tickSize": {"condition": {"test": "datum.value % 2 === 0", "value": -7}, "value": -4}, "labelExpr": "datum.value % 2 === 0 ? format(datum.value, 'd') : ''", "labelFontSize": 16, "labelPadding": 11, "labelFlush": false, "labelOverlap": false, "title": "χ", "titleFontSize": 17, "titlePadding": 7}},
  "y": {"field": "y", "type": "quantitative", "scale": {"domain": [0, 41], "nice": false}, "axis": null},
  "detail": {"field": "d"},
  "strokeWidth": {"condition": {"test": "datum.d === '2.0'", "value": 2}, "value": 3}
 }},
{"data": {"name": "ref"}, "mark": {"type": "rule", "strokeDash": [2, 3], "color": "#444", "strokeWidth": 1},
 "encoding": {"x": {"field": "x", "type": "quantitative", "axis": {"orient": "top", "values": [0,0.5,1,1.5,2,2.5,3,3.5,4,4.5,5,5.5,6,6.5,7,7.5,8,8.5,9,9.5,10], "tickSize": {"condition": {"test": "datum.value % 2 === 0", "value": -7}, "value": -4}, "labels": false, "title": null}}}},
{"data": {"name": "labels"}, "transform": [{"filter": "datum.p === 'c'"}],
 "mark": {"type": "text", "align": "right", "baseline": "middle", "fontSize": 16, "font": "Liberation Sans", "color": "black"},
 "encoding": {"x": {"field": "x", "type": "quantitative", "axis": null}, "y": {"field": "y", "type": "quantitative", "axis": null}, "text": {"field": "t"}}}
]
}
]
}
